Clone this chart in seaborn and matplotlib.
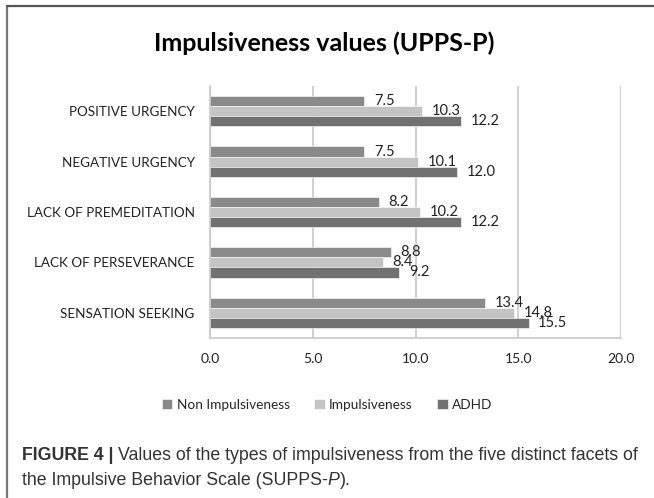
import numpy as np
import pandas as pd
import seaborn as sns
import matplotlib.pyplot as plt
from matplotlib.lines import Line2D

facets = ['POSITIVE URGENCY', 'NEGATIVE URGENCY', 'LACK OF PREMEDITATION',
          'LACK OF PERSEVERANCE', 'SENSATION SEEKING']
groups = ['Non Impulsiveness', 'Impulsiveness', 'ADHD']
non_imp = [7.5, 7.5, 8.2, 8.8, 13.4]
imp = [10.3, 10.1, 10.2, 8.4, 14.8]
adhd = [12.2, 12.0, 12.2, 9.2, 15.5]
colors = ['#8a8a8a', '#c4c4c4', '#717171']
xticks = [0, 5, 10, 15, 20]

df = pd.DataFrame({
    'facet': facets * 3,
    'group': [groups[0]] * 5 + [groups[1]] * 5 + [groups[2]] * 5,
    'value': non_imp + imp + adhd,
})

sns.set_style('white')
plt.rcParams['font.family'] = ['Lato', 'DejaVu Sans']

fig = plt.figure(figsize=(6.54, 4.98), dpi=100)
ax = fig.add_axes([210 / 654, 1 - 338 / 498, 411 / 654, 252 / 498])

sns.barplot(data=df, y='facet', x='value', hue='group', order=facets,
            hue_order=groups, palette=colors, orient='h', width=0.6,
            gap=0, edgecolor='white', linewidth=0.4, saturation=1,
            legend=True, ax=ax)

for c in ax.containers:
    ax.bar_label(c, fmt='%.1f', padding=7, fontsize=10.5, color='#222222')

ax.set_xlim(0, 20)
ax.set_xticks(xticks)
ax.set_xticklabels(['%.1f' % t for t in xticks])
ax.xaxis.grid(True, color='#c8c8c8', linewidth=1.2)
ax.set_axisbelow(True)
for s in ['top', 'right']:
    ax.spines[s].set_visible(False)
ax.spines['left'].set_color('#c8c8c8')
ax.spines['bottom'].set_color('#c8c8c8')
ax.spines['left'].set_linewidth(1.2)
ax.spines['bottom'].set_linewidth(1.2)
ax.set_xlabel('')
ax.set_ylabel('')
ax.tick_params(axis='x', labelsize=10, pad=11, length=0, colors='#222222')
ax.tick_params(axis='y', labelsize=9.7, pad=11, length=0, colors='#222222')

handles, labels = ax.get_legend_handles_labels()
ax.legend_.remove()
fig.legend(handles, labels, loc='center', bbox_to_anchor=(0.5, 1 - 405 / 498),
           ncol=3, frameon=False, fontsize=9.8, handlelength=0.8,
           handleheight=0.8, handletextpad=0.3, columnspacing=1.8)

fig.text(0.495, 1 - 43 / 498, 'Impulsiveness values (UPPS-P)', ha='center',
         va='center', fontsize=18, fontweight='bold', color='black')

# frame lines
fig.add_artist(Line2D([7 / 654, 7 / 654], [0, 1 - 6 / 498], color='#777777', lw=1.6))
fig.add_artist(Line2D([7 / 654, 1], [1 - 6 / 498, 1 - 6 / 498], color='#555555', lw=1.6))

# caption
cap_fam = ['Liberation Sans', 'DejaVu Sans']
cap_size = 12.8
fig.canvas.draw()
r = fig.canvas.get_renderer()


def put(x, y, s, **kw):
    t = fig.text(x, y, s, fontsize=cap_size, family=cap_fam, va='center',
                 color='#333333', **kw)
    bb = t.get_window_extent(renderer=r)
    return x + bb.width / fig.bbox.width


x0 = 22 / 654
y1 = 1 - 455 / 498
y2 = 1 - 480 / 498
x = put(x0, y1, 'FIGURE 4 | ', fontweight='bold')
put(x, y1, 'Values of the types of impulsiveness from the five distinct facets of')
x = put(x0, y2, 'the Impulsive Behavior Scale (SUPPS-')
x = put(x, y2, 'P', style='italic')
put(x, y2, ').')

fig.savefig('out.png', dpi=100)
